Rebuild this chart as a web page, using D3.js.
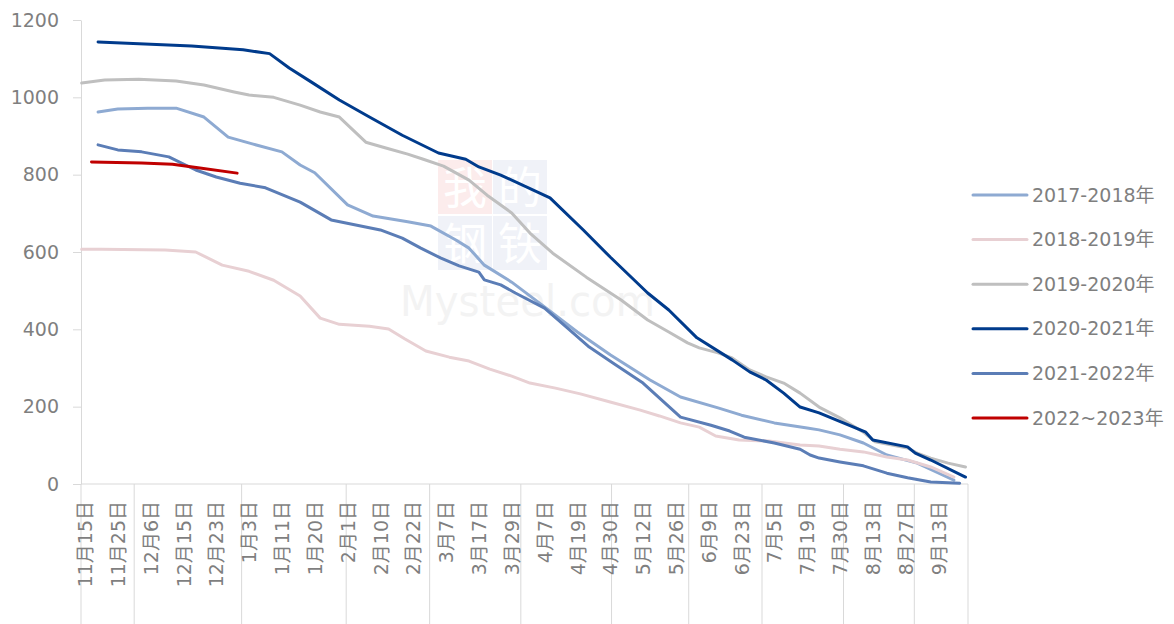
<!DOCTYPE html>
<html>
<head>
<meta charset="utf-8">
<script src="https://cdn.jsdelivr.net/npm/d3@7"></script>
<style>
  body { margin: 0; background: #fff; }
  text { font-family: "DejaVu Sans", "Noto Sans CJK SC", sans-serif; }
</style>
</head>
<body>
<div id="chart"></div>
<script>
// category labels on the date axis (every other date is shown)
const tickLabels = ["11月15日", "11月25日", "12月6日", "12月15日", "12月23日", "1月3日", "1月11日", "1月20日",
  "2月1日", "2月10日", "2月22日", "3月7日", "3月17日", "3月29日", "4月7日", "4月19日", "4月30日",
  "5月12日", "5月26日", "6月9日", "6月23日", "7月5日", "7月19日", "7月30日", "8月13日", "8月27日", "9月13日"];
const monthLabels = ["11月", "12月", "1月", "2月", "3月", "4月", "5月", "6月", "7月", "8月", "9月"];
const yTicks = [0, 200, 400, 600, 800, 1000, 1200];

const seriesNames = ["2017-2018年", "2018-2019年", "2019-2020年", "2020-2021年", "2021-2022年", "2022~2023年"];
const seriesColors = ["#8eaad2", "#e8d0d3", "#bfbfbf", "#003b8c", "#5b7db6", "#c00000"];

// [date, value]
const s2017 = [["11/19", 962], ["11/25", 970], ["12/5", 972], ["12/13", 972], ["12/20", 949], ["12/27", 897],
  ["1/4", 879], ["1/11", 859], ["1/16", 825], ["1/20", 805], ["2/1", 722], ["2/8", 693], ["2/20", 678],
  ["3/1", 667], ["3/10", 631], ["3/14", 610], ["3/19", 566], ["3/29", 522], ["4/7", 458], ["4/19", 393],
  ["4/30", 334], ["5/15", 269], ["5/28", 225], ["6/13", 197], ["6/23", 178], ["7/5", 158], ["7/19", 145],
  ["7/23", 140], ["7/30", 127], ["8/9", 106], ["8/19", 75], ["9/2", 54], ["9/21", 10]];
const s2018 = [["11/14", 607], ["11/20", 607], ["12/10", 605], ["12/18", 600], ["12/25", 566], ["1/3", 550],
  ["1/9", 527], ["1/16", 486], ["1/22", 429], ["1/29", 413], ["2/7", 408], ["2/13", 401], ["2/19", 375],
  ["2/27", 344], ["3/8", 328], ["3/14", 318], ["3/21", 297], ["3/29", 279], ["4/3", 261], ["4/11", 248],
  ["4/20", 233], ["4/30", 212], ["5/11", 191], ["5/19", 176], ["5/28", 158], ["6/5", 147], ["6/12", 124],
  ["6/22", 114], ["7/3", 111], ["7/16", 101], ["7/23", 98], ["7/30", 90], ["8/9", 83], ["8/19", 70],
  ["8/28", 62], ["9/9", 44], ["9/21", 18]];
const s2019 = [["11/14", 1037], ["11/21", 1045], ["12/2", 1047], ["12/13", 1042], ["12/20", 1032], ["12/29", 1014],
  ["1/3", 1006], ["1/9", 1000], ["1/16", 980], ["1/22", 962], ["1/29", 949], ["2/6", 884], ["2/12", 869],
  ["2/20", 853], ["2/26", 840], ["3/6", 822], ["3/14", 786], ["3/20", 747], ["3/29", 701], ["4/3", 649],
  ["4/10", 597], ["4/22", 535], ["5/4", 476], ["5/14", 424], ["5/23", 393], ["5/31", 365], ["6/5", 352],
  ["6/13", 339], ["6/19", 326], ["6/26", 295], ["7/2", 277], ["7/9", 261], ["7/16", 235], ["7/23", 199],
  ["7/30", 171], ["8/9", 134], ["8/14", 109], ["8/28", 93], ["9/2", 80], ["9/9", 67], ["9/18", 54], ["9/27", 44]];
const s2020 = [["11/19", 1143], ["12/17", 1133], ["1/1", 1123], ["1/8", 1113], ["1/13", 1076], ["1/19", 1040],
  ["1/29", 993], ["2/7", 949], ["2/18", 902], ["3/4", 856], ["3/13", 840], ["3/17", 820], ["3/25", 799],
  ["4/9", 740], ["4/21", 657], ["4/30", 587], ["5/14", 494], ["5/23", 450], ["6/4", 378], ["6/19", 321],
  ["6/26", 290], ["7/2", 269], ["7/9", 235], ["7/16", 199], ["7/23", 184], ["8/10", 134], ["8/13", 114],
  ["8/28", 96], ["9/1", 80], ["9/9", 62], ["9/27", 18]];
const s2021 = [["11/19", 877], ["11/25", 864], ["12/3", 859], ["12/11", 846], ["12/18", 812], ["12/23", 794],
  ["12/31", 778], ["1/7", 766], ["1/16", 729], ["1/26", 683], ["2/10", 657], ["2/18", 636], ["2/25", 610],
  ["3/5", 584], ["3/11", 564], ["3/17", 548], ["3/19", 528], ["3/25", 515], ["3/30", 494], ["4/7", 455],
  ["4/15", 406], ["4/23", 354], ["5/1", 313], ["5/12", 261], ["5/28", 173], ["6/10", 152], ["6/18", 137],
  ["6/24", 121], ["7/5", 106], ["7/16", 90], ["7/20", 75], ["7/23", 67], ["7/30", 57], ["8/9", 47],
  ["8/19", 28], ["8/28", 16], ["9/9", 5], ["9/24", 2]];
const s2022 = [["11/17", 833], ["12/3", 830], ["12/12", 827], ["12/19", 817], ["12/30", 804]];

const seriesData = [s2017, s2018, s2019, s2020, s2021, s2022];

// days counted from Nov 15 (season starts in Nov, ends in Sep)
function seasonDay(m, d) {
  const yr = m >= 11 ? 2000 : 2001;
  return (Date.UTC(yr, m - 1, d) - Date.UTC(2000, 10, 15)) / 864e5;
}
const labelDay = s => { const p = s.match(/(\d+)月(\d+)日/); return seasonDay(+p[1], +p[2]); };
const pointDay = s => { const p = s.split("/"); return seasonDay(+p[0], +p[1]); };

const width = 1174, height = 624;
const plotLeft = 81, plotRight = 968, plotTop = 20, plotBottom = 484;
const axisColor = "#d9d9d9", textColor = "#7f7f7f";

const svg = d3.select("#chart").append("svg")
  .attr("width", width)
  .attr("height", height);

// label index -> pixel
const xTick = d3.scaleLinear().domain([-0.12, 26.9]).range([plotLeft, plotRight]);
const tickDays = tickLabels.map(labelDay);
// date -> pixel, piecewise between labelled dates
const xDay = d3.scaleLinear().domain(tickDays).range(tickDays.map((d, i) => xTick(i)));
const xPoint = d3.scalePoint().domain(tickLabels).range([xTick(0), xTick(tickLabels.length - 1)]);
const y = d3.scaleLinear().domain([0, 1200]).range([plotBottom, plotTop]);

// faint watermark
const wm = svg.append("g");
[["我", 438, 160, "#fcecec"], ["的", 493, 160, "#f0f2f8"], ["钢", 438, 216, "#f0f2f8"], ["铁", 493, 216, "#f0f2f8"]]
  .forEach(([c, x, yy, f]) => {
    wm.append("rect").attr("x", x).attr("y", yy).attr("width", 54).attr("height", 54).attr("fill", f);
    wm.append("text").attr("x", x + 27).attr("y", yy + 44).attr("text-anchor", "middle")
      .attr("font-size", 44).attr("fill", "#fff").text(c);
  });
wm.append("text").attr("x", 400).attr("y", 316).attr("font-size", 42)
  .attr("textLength", 255).attr("lengthAdjust", "spacingAndGlyphs")
  .attr("fill", "#f3f3f3").text("Mysteel.com");

// y axis
const yAxis = svg.append("g")
  .attr("transform", `translate(${plotLeft},0)`)
  .call(d3.axisLeft(y).tickValues(yTicks).tickFormat(d3.format("d"))
    .tickSize(8).tickSizeOuter(0).tickPadding(14));
yAxis.selectAll("path, line").attr("stroke", axisColor);
yAxis.selectAll("text").attr("fill", textColor).attr("font-size", 19)
  .style("font-family", "'DejaVu Sans', sans-serif");

// x axis base line
svg.append("line")
  .attr("x1", plotLeft).attr("x2", plotRight).attr("y1", plotBottom).attr("y2", plotBottom)
  .attr("stroke", axisColor);

// month group separators
const monthStarts = monthLabels.slice(1).map(s => xDay(seasonDay(+s.replace("月", ""), 1) - 0.5));
const bounds = [plotLeft, ...monthStarts, plotRight];
svg.selectAll(".sep")
  .data(bounds)
  .enter()
  .append("line")
  .attr("class", "sep")
  .attr("x1", d => d).attr("x2", d => d)
  .attr("y1", plotBottom).attr("y2", height)
  .attr("stroke", axisColor);

// date labels
const xAxis = svg.append("g")
  .attr("transform", `translate(0,${plotBottom})`)
  .call(d3.axisBottom(xPoint).tickSize(0).tickPadding(0));
xAxis.select(".domain").remove();
xAxis.selectAll("text")
  .attr("transform", "rotate(-90)")
  .attr("x", -17).attr("y", 0).attr("dy", "0.35em")
  .attr("text-anchor", "end")
  .attr("fill", textColor).attr("font-size", 19);

// month labels (second level, mostly cut off by the frame)
svg.selectAll(".month")
  .data(monthLabels)
  .enter()
  .append("text")
  .attr("class", "month")
  .attr("x", (d, i) => (bounds[i] + bounds[i + 1]) / 2)
  .attr("y", 642)
  .attr("text-anchor", "middle")
  .attr("fill", textColor).attr("font-size", 19)
  .text(d => d);

// lines
const line = d3.line()
  .x(d => xDay(pointDay(d[0])))
  .y(d => y(d[1]));

svg.selectAll(".series")
  .data(seriesData)
  .enter()
  .append("path")
  .attr("class", "series")
  .attr("d", line)
  .attr("fill", "none")
  .attr("stroke", (d, i) => seriesColors[i])
  .attr("stroke-width", 3)
  .attr("stroke-linejoin", "round")
  .attr("stroke-linecap", "round");

// legend
const legend = svg.selectAll(".legend")
  .data(seriesNames)
  .enter()
  .append("g")
  .attr("class", "legend")
  .attr("transform", (d, i) => `translate(973,${195 + i * 44.6})`);
legend.append("line")
  .attr("x1", 0).attr("x2", 54)
  .attr("stroke", (d, i) => seriesColors[i])
  .attr("stroke-width", 3)
  .attr("stroke-linecap", "round");
legend.append("text")
  .attr("x", 59).attr("dy", "0.35em")
  .attr("fill", textColor).attr("font-size", 19)
  .text(d => d);
</script>
</body>
</html>
